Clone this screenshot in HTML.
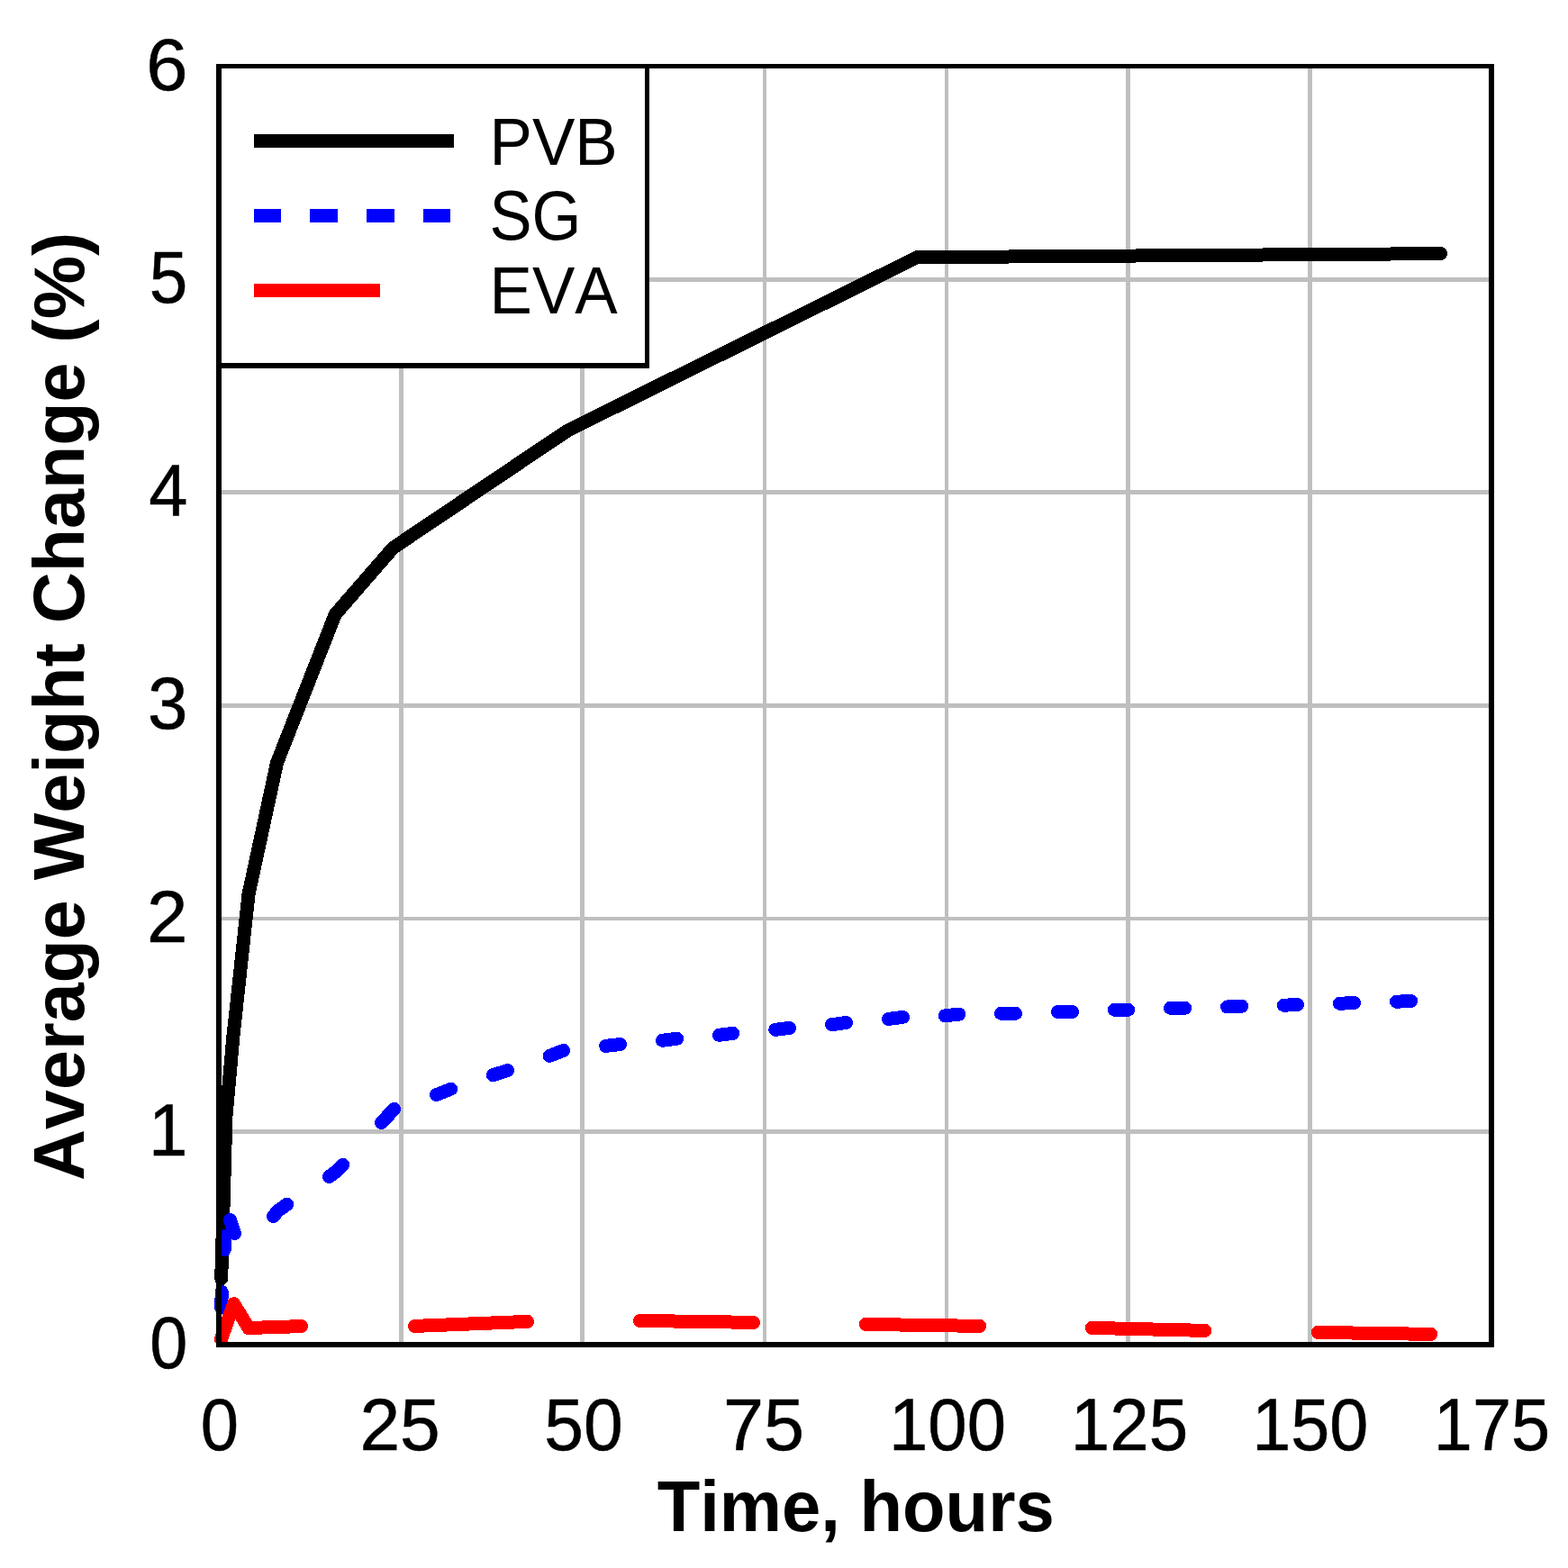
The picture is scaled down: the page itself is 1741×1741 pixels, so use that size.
<!DOCTYPE html>
<html lang="en">
<head>
<meta charset="utf-8">
<title>Average Weight Change vs Time</title>
<style>
html,body{margin:0;padding:0;background:#fff;}
body{width:1741px;height:1741px;}
svg{display:block;}
text{font-family:"Liberation Sans",sans-serif;fill:#000;font-kerning:none;}
.tick{font-size:80px;stroke:#000;stroke-width:0.5px;}
.lab{font-size:79px;font-weight:bold;}
.leg{font-size:72px;}
</style>
</head>
<body>
<svg width="1741" height="1741" viewBox="0 0 1741 1741">
<rect x="0" y="0" width="1741" height="1741" fill="#ffffff"/>

<g fill="#bfbfbf" shape-rendering="crispEdges">
<rect x="443" y="76" width="5" height="1414"/>
<rect x="644" y="76" width="5" height="1414"/>
<rect x="847" y="76" width="4" height="1414"/>
<rect x="1049" y="76" width="4" height="1414"/>
<rect x="1250" y="76" width="5" height="1414"/>
<rect x="1452" y="76" width="5" height="1414"/>
<rect x="246" y="308" width="1407" height="5"/>
<rect x="246" y="544" width="1407" height="5"/>
<rect x="246" y="781" width="1407" height="5"/>
<rect x="246" y="1018" width="1407" height="4"/>
<rect x="246" y="1254" width="1407" height="5"/>
</g>
<g fill="none" stroke-width="15" stroke-linecap="round" stroke-linejoin="round" shape-rendering="crispEdges">
<polyline stroke="#000000" points="245.7,1419.7 250.9,1240 259.0,1150 276.0,993 307.5,847 372.2,682.2 436.6,608.2 630.3,478.0 1018.2,285.72 1599.5,281.62"/>
<g stroke="#0000ff">
<polyline points="303.4,1350.5 308.6,1344.5 318.7,1337.2"/>
<polyline points="365.4,1306.5 372.7,1301.2 380.7,1293.3"/>
<polyline points="249.2,1387.5 250.1,1372.5"/>
<polyline points="255.4,1354.6 260.6,1369.5"/>
<polyline points="245.6,1451.5 246.3,1434.5"/>
<line x1="423.5" y1="1246.6" x2="437.6" y2="1231.4"/>
<line x1="484.5" y1="1215.6" x2="500.6" y2="1209.2"/>
<line x1="547.3" y1="1193.7" x2="563.7" y2="1188.5"/>
<line x1="610.2" y1="1172.4" x2="625.6" y2="1166.4"/>
<line x1="672.6" y1="1161.4" x2="688.6" y2="1159.5"/>
<line x1="735.5" y1="1155.2" x2="751.7" y2="1153.3"/>
<line x1="798.4" y1="1149.3" x2="813.7" y2="1147.4"/>
<line x1="860.8" y1="1143.3" x2="876.6" y2="1141.4"/>
<line x1="923.5" y1="1137.6" x2="939.7" y2="1135.5"/>
<line x1="986.4" y1="1131.4" x2="1002.4" y2="1129.3"/>
<line x1="1049.3" y1="1127.8" x2="1064.8" y2="1126.1"/>
<line x1="1111.5" y1="1125.3" x2="1127.5" y2="1125.3"/>
<line x1="1174.4" y1="1123.5" x2="1190.6" y2="1123.5"/>
<line x1="1237.4" y1="1121.2" x2="1252.6" y2="1121.2"/>
<line x1="1299.5" y1="1119.3" x2="1315.7" y2="1119.3"/>
<line x1="1362.5" y1="1118.0" x2="1378.7" y2="1117.2"/>
<line x1="1425.4" y1="1116.2" x2="1440.6" y2="1115.6"/>
<line x1="1487.4" y1="1114.2" x2="1503.6" y2="1113.6"/>
<line x1="1550.5" y1="1112.2" x2="1566.7" y2="1111.5"/>
</g>
<g stroke="#ff0000">
<polyline points="245.5,1487 259.6,1447.7 276,1474.5 334.5,1472.6"/>
<line x1="460.5" y1="1472.4" x2="585.6" y2="1467.4"/>
<line x1="710.5" y1="1466.4" x2="836.5" y2="1468.4"/>
<line x1="961.4" y1="1470.4" x2="1087.6" y2="1472.4"/>
<line x1="1212.4" y1="1474.4" x2="1337.7" y2="1477.4"/>
<line x1="1463.3" y1="1479.4" x2="1588.6" y2="1481.4"/>
</g>
</g>
<g shape-rendering="crispEdges">
<rect x="246" y="76" width="470" height="327" fill="#ffffff"/>
<rect x="716" y="71" width="5" height="338" fill="#000"/>
<rect x="240" y="403" width="481" height="6" fill="#000"/>
<rect x="282" y="149" width="222" height="15" fill="#000"/>
<rect x="282" y="232" width="30" height="15" fill="#0000ff"/>
<rect x="344" y="232" width="31" height="15" fill="#0000ff"/>
<rect x="407" y="232" width="31" height="15" fill="#0000ff"/>
<rect x="470" y="232" width="30" height="15" fill="#0000ff"/>
<rect x="282" y="315" width="140" height="15" fill="#ff0000"/>
<rect x="240" y="71" width="6" height="1425" fill="#000"/>
<rect x="1653" y="71" width="6" height="1425" fill="#000"/>
<rect x="240" y="71" width="1419" height="5" fill="#000"/>
<rect x="240" y="1490" width="1419" height="6" fill="#000"/>
</g>
<text class="leg" transform="translate(543.5,183.0) scale(0.987,1.04)">PVB</text>
<text class="leg" transform="translate(543.5,265.6) scale(0.98,1.08)">SG</text>
<text class="leg" transform="translate(543.5,348.0) scale(0.987,1.04)">EVA</text>
<text class="tick" text-anchor="middle" transform="translate(243.9,1610.3) scale(0.95,1.012)">0</text>
<text class="tick" text-anchor="middle" transform="translate(444.1,1610.3) scale(1.0049,1.012)">25</text>
<text class="tick" text-anchor="middle" transform="translate(648.0,1610.3) scale(0.9829,1.012)">50</text>
<text class="tick" text-anchor="middle" transform="translate(848.0,1610.3) scale(1.012,1.012)">75</text>
<text class="tick" text-anchor="middle" transform="translate(1052.0,1610.3) scale(0.9737,1.012)">100</text>
<text class="tick" text-anchor="middle" transform="translate(1254.0,1610.3) scale(0.977,1.012)">125</text>
<text class="tick" text-anchor="middle" transform="translate(1454.7,1610.3) scale(0.9673,1.012)">150</text>
<text class="tick" text-anchor="middle" transform="translate(1656.4,1610.3) scale(0.9672,1.012)">175</text>
<text class="tick" text-anchor="end" transform="translate(208.4,1519.1) scale(0.945,1.012)">0</text>
<text class="tick" text-anchor="end" transform="translate(208.4,1282.5) scale(0.975,1.012)">1</text>
<text class="tick" text-anchor="end" transform="translate(208.4,1045.9) scale(1.02,1.012)">2</text>
<text class="tick" text-anchor="end" transform="translate(208.4,809.4) scale(1.0,1.012)">3</text>
<text class="tick" text-anchor="end" transform="translate(208.4,572.8) scale(0.97,1.012)">4</text>
<text class="tick" text-anchor="end" transform="translate(208.4,336.2) scale(0.957,1.012)">5</text>
<text class="tick" text-anchor="end" transform="translate(208.4,99.6) scale(1.04,1.012)">6</text>
<text class="lab" text-anchor="middle" transform="translate(950.2,1699.6) scale(0.985,1.015)">Time, hours</text>
<text class="lab" text-anchor="middle" transform="translate(92.6,784.4) rotate(-90) scale(1,1.01)">Average Weight Change (%)</text>
</svg>
</body>
</html>
